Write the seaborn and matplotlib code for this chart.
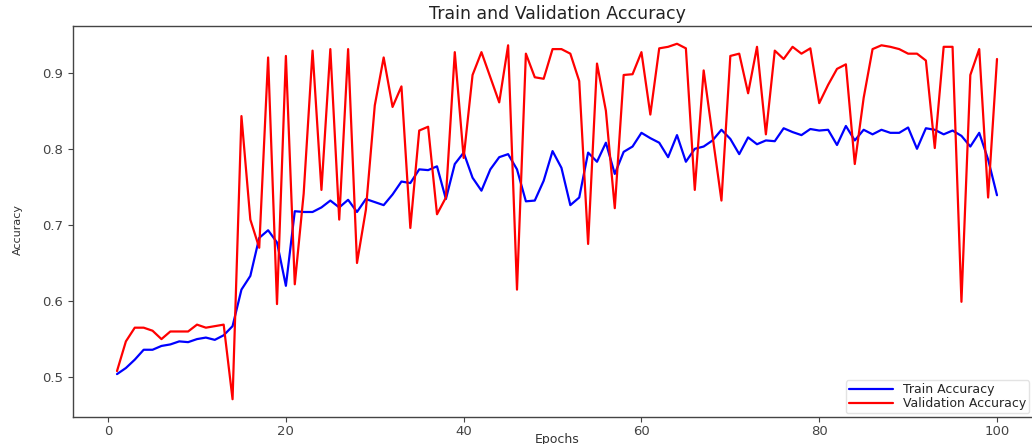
import numpy as np
import pandas as pd
import matplotlib
matplotlib.use("Agg")
import matplotlib.pyplot as plt
import seaborn as sns

epochs = list(range(1, 101))

train_acc = [
    0.504, 0.512, 0.523, 0.536, 0.536, 0.541, 0.543, 0.547, 0.546, 0.550,
    0.552, 0.549, 0.555, 0.567, 0.615, 0.633, 0.683, 0.693, 0.677, 0.620,
    0.718, 0.717, 0.717, 0.723, 0.732, 0.723, 0.733, 0.717, 0.734, 0.730,
    0.726, 0.740, 0.757, 0.755, 0.773, 0.772, 0.777, 0.734, 0.780, 0.795,
    0.762, 0.745, 0.773, 0.789, 0.793, 0.773, 0.731, 0.732, 0.758, 0.797,
    0.775, 0.726, 0.736, 0.795, 0.783, 0.808, 0.767, 0.796, 0.803, 0.821,
    0.814, 0.808, 0.789, 0.818, 0.783, 0.800, 0.803, 0.811, 0.825, 0.813,
    0.793, 0.815, 0.806, 0.811, 0.810, 0.827, 0.822, 0.818, 0.826, 0.824,
    0.825, 0.805, 0.830, 0.811, 0.825, 0.819, 0.825, 0.821, 0.821, 0.828,
    0.800, 0.827, 0.825, 0.819, 0.824, 0.817, 0.803, 0.821, 0.786, 0.739,
]

val_acc = [
    0.508, 0.547, 0.565, 0.565, 0.561, 0.550, 0.560, 0.560, 0.560, 0.569,
    0.565, 0.567, 0.569, 0.471, 0.843, 0.707, 0.670, 0.920, 0.596, 0.922,
    0.622, 0.741, 0.929, 0.746, 0.931, 0.707, 0.931, 0.650, 0.720, 0.857,
    0.920, 0.855, 0.882, 0.696, 0.824, 0.829, 0.714, 0.736, 0.927, 0.788,
    0.897, 0.927, 0.894, 0.861, 0.936, 0.615, 0.925, 0.894, 0.892, 0.931,
    0.931, 0.925, 0.889, 0.675, 0.912, 0.850, 0.722, 0.897, 0.898, 0.927,
    0.845, 0.932, 0.934, 0.938, 0.932, 0.746, 0.903, 0.817, 0.732, 0.922,
    0.925, 0.873, 0.934, 0.819, 0.929, 0.918, 0.934, 0.925, 0.932, 0.860,
    0.884, 0.905, 0.911, 0.780, 0.867, 0.931, 0.936, 0.934, 0.931, 0.925,
    0.925, 0.916, 0.801, 0.934, 0.934, 0.599, 0.897, 0.931, 0.736, 0.918,
]

series_names = ["Train Accuracy", "Validation Accuracy"]
series_colors = ["blue", "red"]

df = pd.DataFrame({
    "Epochs": epochs * 2,
    "Accuracy": train_acc + val_acc,
    "Series": [series_names[0]] * len(epochs) + [series_names[1]] * len(epochs),
})

sns.set_style("ticks")
plt.rcParams["font.family"] = ["DejaVu Sans"]

W, H = 1032, 444
fig = plt.figure(figsize=(W / 100, H / 100), dpi=100)
ax = fig.add_axes([73 / W, 27 / H, (1041 - 73) / W, (417 - 26) / H])

sns.lineplot(data=df, x="Epochs", y="Accuracy", hue="Series",
             palette=dict(zip(series_names, series_colors)),
             linewidth=1.6, ax=ax, legend=False)

ax.margins(x=0.05, y=0.05)
ax.set_yticks([0.5, 0.6, 0.7, 0.8, 0.9])
ax.set_xticks([0, 20, 40, 60, 80, 100])
ax.tick_params(axis="both", labelsize=9.5, colors="#444444", length=3.5, width=0.8)
ax.tick_params(axis="x", pad=2)
for s in ax.spines.values():
    s.set_color("#444444")
    s.set_linewidth(1.0)

ax.set_title("Train and Validation Accuracy", fontsize=12.5, color="#222222", pad=5)
ax.set_xlabel("Epochs", fontsize=9, color="#333333", va="top")
ax.xaxis.set_label_coords(0.5, -0.041)
ax.set_ylabel("Accuracy", fontsize=8, color="#333333")
ax.yaxis.set_label_coords(-0.052, 0.48)

handles = [plt.Line2D([], [], color=c, linewidth=1.6) for c in series_colors]
fig.legend(handles, series_names, loc="lower right",
           bbox_to_anchor=(1029 / W, (444 - 413) / H),
           bbox_transform=fig.transFigure, borderaxespad=0,
           fontsize=9, handlelength=3.5, labelspacing=0.05,
           borderpad=0.25, frameon=True, fancybox=True, framealpha=0.8,
           edgecolor="#dddddd")

fig.savefig("out.png", dpi=100)
